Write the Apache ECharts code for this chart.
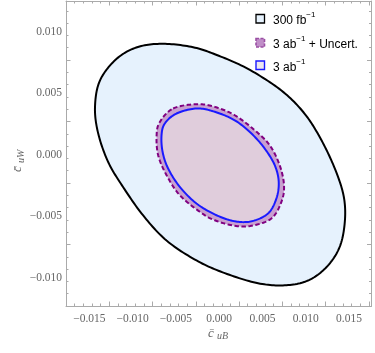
<!DOCTYPE html>
<html>
<head>
<meta charset="utf-8">
<script src="https://cdn.jsdelivr.net/npm/echarts@6/dist/echarts.min.js"></script>
<style>
html,body{margin:0;padding:0;background:#fff;}
#c{width:375px;height:353px;}
</style>
</head>
<body>
<div id="c"></div>
<script>
// axis ranges and ticks
const xRange = [-0.0177, 0.0176];
const yRange = [-0.0123, 0.0125];
const xTicks = [-0.015, -0.010, -0.005, 0.000, 0.005, 0.010, 0.015];
const yTicks = [-0.010, -0.005, 0.000, 0.005, 0.010];

// contour: 300 fb^-1
const contour300fb = [
  [-0.00647, 0.00902], [-0.00301, 0.00874], [-0.00028, 0.00811], [0.00333, 0.00698],
  [0.00719, 0.00522], [0.00988, 0.00333], [0.01184, 0.00115], [0.01345, -0.00128],
  [0.01441, -0.00346], [0.01451, -0.00551], [0.01391, -0.00752], [0.01241, -0.00913],
  [0.01026, -0.01023], [0.00757, -0.01062], [0.00449, -0.01045], [0.00065, -0.00963],
  [-0.00262, -0.00860], [-0.00608, -0.00698], [-0.00878, -0.00494], [-0.01109, -0.00264],
  [-0.01280, -0.00063], [-0.01397, 0.00170], [-0.01435, 0.00386], [-0.01378, 0.00603],
  [-0.01185, 0.00780], [-0.00939, 0.00876]
];
// 3 ab^-1 + Uncert.
const contour3abUnc = [
  [-0.00532, 0.00376], [-0.00262, 0.00411], [-0.00051, 0.00389], [0.00180, 0.00321],
  [0.00411, 0.00199], [0.00584, 0.00077], [0.00699, -0.00085], [0.00749, -0.00248],
  [0.00719, -0.00383], [0.00603, -0.00519], [0.00373, -0.00578], [0.00180, -0.00578],
  [-0.00051, -0.00533], [-0.00224, -0.00464], [-0.00455, -0.00329], [-0.00608, -0.00167],
  [-0.00705, -0.00004], [-0.00723, 0.00159], [-0.00685, 0.00267]
];
// 3 ab^-1
const contour3ab = [
  [-0.00493, 0.00335], [-0.00262, 0.00376], [-0.00051, 0.00349], [0.00180, 0.00280],
  [0.00373, 0.00172], [0.00526, 0.00050], [0.00642, -0.00085], [0.00688, -0.00220],
  [0.00661, -0.00356], [0.00564, -0.00478], [0.00373, -0.00541], [0.00180, -0.00541],
  [-0.00031, -0.00492], [-0.00262, -0.00397], [-0.00455, -0.00261], [-0.00590, -0.00112],
  [-0.00654, 0.00024], [-0.00666, 0.00159], [-0.00628, 0.00254]
];

const frameColor = '#aaaaaa';
const labelColor = '#666666';

function fmt(v) {
  const s = Math.abs(v).toFixed(3);
  return (v < -1e-9 ? '\u2212' : '') + s;
}

// closed Catmull-Rom rendering of the traced pixel positions (drawing only)
function smoothClosed(P) {
  const n = P.length, out = [];
  const steps = 14;
  for (let i = 0; i < n; i++) {
    const p0 = P[(i - 1 + n) % n], p1 = P[i], p2 = P[(i + 1) % n], p3 = P[(i + 2) % n];
    for (let k = 0; k < steps; k++) {
      const t = k / steps, t2 = t * t, t3 = t2 * t;
      const f = (a, b, c, d) => 0.5 * ((2 * b) + (-a + c) * t + (2 * a - 5 * b + 4 * c - d) * t2 + (-a + 3 * b - 3 * c + d) * t3);
      out.push([f(p0[0], p1[0], p2[0], p3[0]), f(p0[1], p1[1], p2[1], p3[1])]);
    }
  }
  return out;
}

function contourSeries(pts, fill, stroke, lw, dash) {
  return {
    type: 'custom',
    coordinateSystem: 'cartesian2d',
    data: pts,
    silent: true,
    renderItem: function (params, api) {
      if (params.dataIndex !== 0) return null;
      const points = smoothClosed(pts.map(p => api.coord(p)));
      return {
        type: 'polygon',
        shape: { points: points },
        style: { fill: fill, stroke: stroke, lineWidth: lw, lineDash: dash || null, lineJoin: 'round' }
      };
    }
  };
}

function mkX(pos, showLabel) {
  return {
    type: 'value', position: pos, min: xRange[0], max: xRange[1],
    interval: 0.005,
    axisLine: { show: true, onZero: false, lineStyle: { color: frameColor, width: 1 } },
    axisTick: { show: true, inside: true, length: 4.5, lineStyle: { color: frameColor } },
    minorTick: { show: true, splitNumber: 5, length: 2.5, lineStyle: { color: frameColor } },
    splitLine: { show: false },
    axisLabel: {
      show: showLabel, margin: 7, color: labelColor,
      fontFamily: 'Liberation Serif', fontSize: 11.5,
      customValues: xTicks,
      formatter: fmt
    }
  };
}
function mkY(pos, showLabel) {
  return {
    type: 'value', position: pos, min: yRange[0], max: yRange[1],
    interval: 0.005,
    axisLine: { show: true, onZero: false, lineStyle: { color: frameColor, width: 1 } },
    axisTick: { show: true, inside: true, length: 4.5, lineStyle: { color: frameColor } },
    minorTick: { show: true, splitNumber: 5, length: 2.5, lineStyle: { color: frameColor } },
    splitLine: { show: false },
    axisLabel: {
      show: showLabel, margin: 4, color: labelColor,
      fontFamily: 'Liberation Serif', fontSize: 11.5,
      customValues: yTicks,
      formatter: fmt
    }
  };
}

const chart = echarts.init(document.getElementById('c'), null, { renderer: 'canvas' });

const nameRich = {
  c: { fontFamily: 'Liberation Serif', fontStyle: 'italic', fontSize: 13, fill: labelColor },
  s: { fontFamily: 'Liberation Serif', fontStyle: 'italic', fontSize: 10, fill: labelColor, padding: [6, 0, 0, 0] }
};
const legRich = {
  n: { fontFamily: 'Liberation Sans', fontSize: 12, fill: '#000', lineHeight: 16, verticalAlign: 'bottom' },
  s: { fontFamily: 'Liberation Sans', fontSize: 8, fill: '#000', lineHeight: 16, verticalAlign: 'top' }
};

const option = {
  animation: false,
  backgroundColor: '#ffffff',
  grid: { left: 66, right: 3.5, top: 1, bottom: 47, containLabel: false },
  xAxis: [mkX('bottom', true), mkX('top', false)],
  yAxis: [mkY('left', true), mkY('right', false)],
  series: [
    contourSeries(contour300fb, '#e6f2fd', '#000000', 2),
    contourSeries(contour3abUnc, '#c8a0cf', '#800080', 2, [4.5, 2.5]),
    contourSeries(contour3ab, '#e0cddc', '#1a1aff', 2)
  ],
  graphic: [
    { type: 'text', left: 208, top: 327, style: { rich: nameRich, text: '{c|c\u0304} {s|uB}' } },
    { type: 'text', x: 10, y: 172, rotation: Math.PI / 2, style: { rich: nameRich, text: '{c|c\u0304} {s|uW}' } },
    // legend
    { type: 'rect', shape: { x: 256, y: 14.5, width: 8.5, height: 8.5 },
      style: { fill: '#e6f2fd', stroke: '#000', lineWidth: 1.3 } },
    { type: 'rect', shape: { x: 256, y: 38.5, width: 8.5, height: 8.5 },
      style: { fill: '#c08ec8', stroke: '#9a4fa3', lineWidth: 1.6, lineDash: [3, 1.5] } },
    { type: 'rect', shape: { x: 256, y: 61, width: 8.5, height: 8.5 },
      style: { fill: '#ece6ef', stroke: '#1a1aff', lineWidth: 1.4 } },
    { type: 'text', x: 273, y: 11, style: { rich: legRich, text: '{n|300 fb}{s|\u22121}' } },
    { type: 'text', x: 273, y: 35, style: { rich: legRich, text: '{n|3 ab}{s|\u22121}{n| + Uncert.}' } },
    { type: 'text', x: 273, y: 57.5, style: { rich: legRich, text: '{n|3 ab}{s|\u22121}' } }
  ]
};
chart.setOption(option);
</script>
</body>
</html>
